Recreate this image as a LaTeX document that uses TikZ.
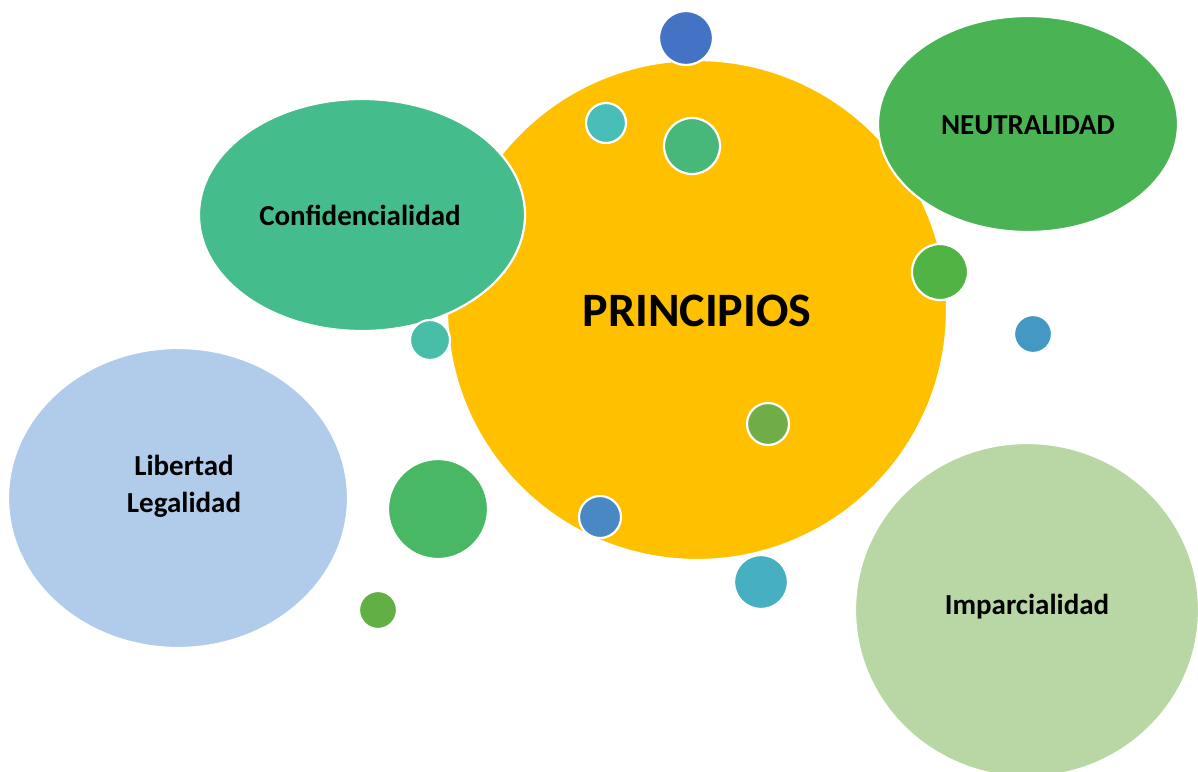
\documentclass[tikz,border=0pt]{standalone}
\usepackage{fontspec}
\setmainfont{Carlito}
\begin{document}
\begin{tikzpicture}[x=1pt,y=-1pt,
  bub/.style={draw=white,line width=2.2pt},
  lbl/.style={font=\bfseries\fontsize{29}{37}\selectfont,align=center,text=black}]
\definecolor{cyel}{HTML}{FFC000}
\definecolor{cneu}{HTML}{4AB454}
\definecolor{ccon}{HTML}{44BC8C}
\definecolor{clib}{HTML}{B0CCEA}
\definecolor{cimp}{HTML}{B8D7A4}
\definecolor{d1}{HTML}{4472C4}
\definecolor{d2}{HTML}{48BEB8}
\definecolor{d3}{HTML}{48B87A}
\definecolor{d4}{HTML}{50B444}
\definecolor{d5}{HTML}{4499C4}
\definecolor{d6}{HTML}{70AD47}
\definecolor{d7}{HTML}{48BEA8}
\definecolor{d8}{HTML}{48B864}
\definecolor{d9}{HTML}{62AF44}
\definecolor{d10}{HTML}{4A88C4}
\definecolor{d11}{HTML}{46B0C2}
\useasboundingbox (0,0) rectangle (1198,771);
\fill[white] (0,0) rectangle (1198,771);
% main circle
\fill[bub,fill=cyel] (697,310) circle (250);
\node[lbl,font=\bfseries\fontsize{48}{58}\selectfont] (pri) at (697,311) {PRINCIPIOS};
% ellipses
\fill[bub,fill=ccon] (362,215) ellipse (163 and 116);
\node[lbl] (con) at (360,215) {Confidencialidad};
\fill[bub,fill=cneu] (1028,124) ellipse (150 and 108);
\node[lbl] (neu) at (1028,125) {NEUTRALIDAD};
\fill[bub,fill=clib] (178,498) ellipse (170 and 150);
\node[lbl] (lib) at (184,486) {Libertad\\Legalidad};
\fill[bub,fill=cimp] (1027,610) ellipse (172 and 167);
\node[lbl] (imp) at (1027,607) {Imparcialidad};
% dots
\filldraw[bub,fill=d1] (686,38) circle (27);
\filldraw[bub,fill=d2] (606,123) circle (20);
\filldraw[bub,fill=d3] (692,146) circle (28);
\filldraw[bub,fill=d4] (940,272) circle (28);
\filldraw[bub,fill=d5] (1033,334) circle (19);
\filldraw[bub,fill=d6] (768,424) circle (21);
\filldraw[bub,fill=d7] (430,340) circle (20);
\filldraw[bub,fill=d8] (438,509) circle (50);
\filldraw[bub,fill=d9] (378,610) circle (19);
\filldraw[bub,fill=d10] (600,517) circle (21);
\filldraw[bub,fill=d11] (761,582) circle (27);
\end{tikzpicture}
\end{document}
